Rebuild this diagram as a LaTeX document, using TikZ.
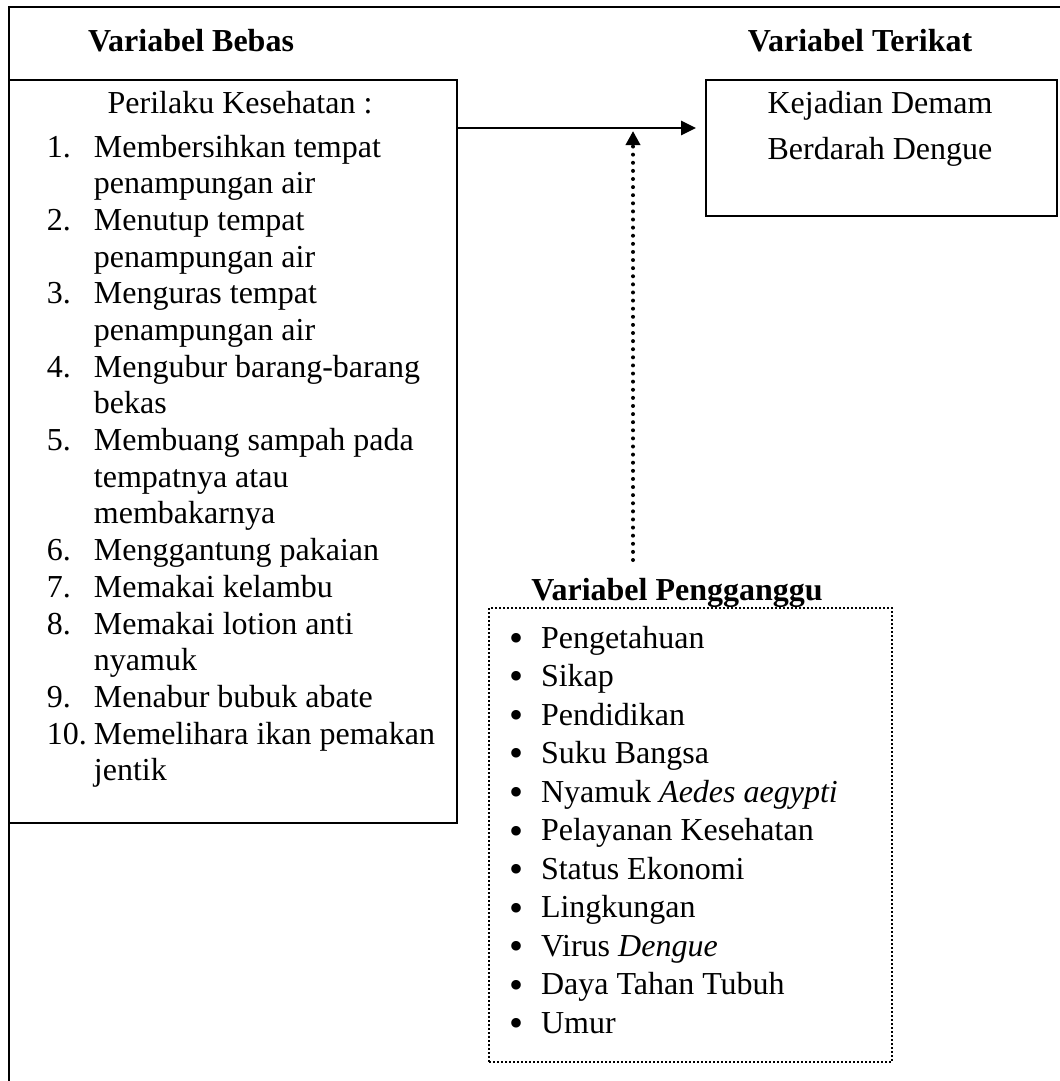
\documentclass[tikz,border=0pt]{standalone}
\usepackage{fontspec}
\setmainfont{Liberation Serif}
\usetikzlibrary{arrows.meta}
\newcommand{\butir}{\raisebox{-1.3pt}{\fontsize{15}{14}\selectfont\textbullet}}

\begin{document}
\begin{tikzpicture}[
  x=0.375pt, y=-0.375pt,
  every node/.style={inner sep=0pt, outer sep=0pt, font=\fontsize{12}{14}\selectfont},
  heading/.style={anchor=base, font=\fontsize{12}{14}\selectfont\bfseries},
  frame/.style={line width=0.75pt},
  box/.style={draw, rectangle, line width=0.7pt, anchor=north west},
  dotbox/.style={draw, rectangle, line width=0.6pt, dash pattern=on 0.75pt off 0.75pt, anchor=north west},
  arr/.style={line width=0.75pt, -{Triangle[length=5.6pt,width=5.3pt]}},
  dotarr/.style={line width=1.5pt, line cap=round, dash pattern=on 0pt off 3.04pt, -{Triangle[length=5.3pt,width=5.3pt]}},
]
\useasboundingbox (0,0) rectangle (1060,1081);
% outer frame
\draw[frame] (1060,7) -- (9,7) -- (9,1081);
\node[heading] (bebasjudul) at (191,52) {Variabel Bebas};
\node[heading] (terikatjudul) at (860,52) {Variabel Terikat};
% independent variable
\node[box, minimum width=168pt, minimum height=278.6pt] (bebas) at (9,80) {};
\node[anchor=base] (perilaku) at (240,114) {Perilaku Kesehatan :};
\node[anchor=base west] (daftarbebas) at (47,157) {\fontsize{12}{13.76}\selectfont
  \begin{tabular}[t]{@{}p{17.6pt}@{}l@{}}
  1. & Membersihkan tempat\\
     & penampungan air\\
  2. & Menutup tempat\\
     & penampungan air\\
  3. & Menguras tempat\\
     & penampungan air\\
  4. & Mengubur barang-barang\\
     & bekas\\
  5. & Membuang sampah pada\\
     & tempatnya atau\\
     & membakarnya\\
  6. & Menggantung pakaian\\
  7. & Memakai kelambu\\
  8. & Memakai lotion anti\\
     & nyamuk\\
  9. & Menabur bubuk abate\\
  10. & Memelihara ikan pemakan\\
     & jentik
  \end{tabular}};
% dependent variable
\node[box, minimum width=131.6pt, minimum height=51pt] (terikat) at (706,80) {};
\node[anchor=base] (terikatisi) at (880,114) {\fontsize{12}{16.9}\selectfont
  \begin{tabular}[t]{@{}c@{}}
  Kejadian Demam\\
  Berdarah Dengue
  \end{tabular}};
% confounding variable
\node[heading] (penggangguJudul) at (677,600) {Variabel Pengganggu};
\node[dotbox, minimum width=151.1pt, minimum height=170.25pt] (pengganggu) at (489,608) {};
\node[anchor=base west] (daftarpengganggu) at (509,648) {\fontsize{12}{14.44}\selectfont
  \begin{tabular}[t]{@{}p{12pt}@{}l@{}}
  \butir & Pengetahuan\\
  \butir & Sikap\\
  \butir & Pendidikan\\
  \butir & Suku Bangsa\\
  \butir & Nyamuk \textit{Aedes aegypti}\\
  \butir & Pelayanan Kesehatan\\
  \butir & Status Ekonomi\\
  \butir & Lingkungan\\
  \butir & Virus \textit{Dengue}\\
  \butir & Daya Tahan Tubuh\\
  \butir & Umur
  \end{tabular}};
% arrows
\coordinate (panah) at (0,128);
\coordinate (temu) at (633,131);
\coordinate (bawah) at (633,560);
\draw[arr] (bebas.east |- panah) -- ([xshift=-3.75pt]terikat.west |- panah);
\draw[dotarr] (bawah) -- (temu);
\end{tikzpicture}
\end{document}
